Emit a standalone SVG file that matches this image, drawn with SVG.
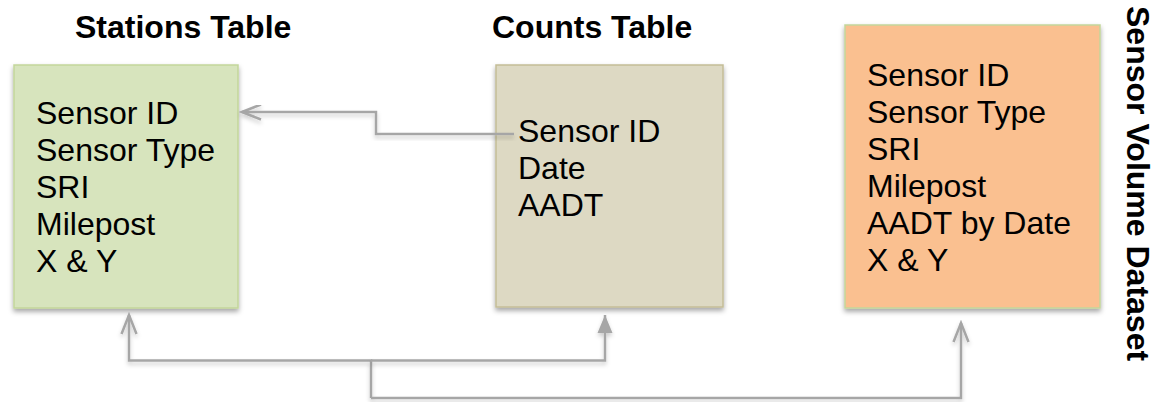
<svg xmlns="http://www.w3.org/2000/svg" width="1156" height="402" viewBox="0 0 1156 402">
  <style>
    .title { font-family: "Liberation Sans", Arial, sans-serif; font-weight: bold; font-size: 32px; fill: #000; }
    .body { font-family: "Liberation Sans", Arial, sans-serif; font-size: 32px; fill: #000; }
    .box { stroke-width: 1.5; filter: url(#shadow); }
    .link { fill: none; stroke: #a6a6a6; stroke-width: 2.5; filter: url(#lineShadow); }
  </style>
  <defs>
    <filter id="shadow" x="-10%" y="-10%" width="120%" height="125%">
      <feDropShadow dx="0" dy="3" stdDeviation="2.5" flood-color="#000" flood-opacity="0.35"/>
    </filter>
    <filter id="lineShadow" x="-10%" y="-30%" width="120%" height="160%">
      <feDropShadow dx="0" dy="3" stdDeviation="2" flood-color="#000" flood-opacity="0.2"/>
    </filter>
    <marker id="openArrow" markerUnits="userSpaceOnUse" viewBox="0 0 24 18" markerWidth="24" markerHeight="18" refX="21" refY="9" orient="auto">
      <path d="M2,1.5 L21,9 L2,16.5" fill="none" stroke="#a6a6a6" stroke-width="2.5"/>
    </marker>
    <marker id="solidArrow" markerUnits="userSpaceOnUse" viewBox="0 0 20 18" markerWidth="20" markerHeight="18" refX="18" refY="9" orient="auto">
      <path d="M0,1.5 L18,9 L0,16.5 Z" fill="#a6a6a6"/>
    </marker>
  </defs>

  <!-- Titles -->
  <text class="title" x="75" y="38">Stations Table</text>
  <text class="title" x="492" y="38">Counts Table</text>

  <!-- Stations table -->
  <g id="stations">
    <rect class="box" x="14" y="65" width="224" height="243" fill="#d7e4bd" stroke="#c3d69b"/>
    <text class="body" x="36" y="124">Sensor ID</text>
    <text class="body" x="36" y="161">Sensor Type</text>
    <text class="body" x="36" y="198">SRI</text>
    <text class="body" x="36" y="235">Milepost</text>
    <text class="body" x="36" y="272">X &amp; Y</text>
  </g>

  <!-- Counts table -->
  <g id="counts">
    <rect class="box" x="496" y="65" width="227" height="242" fill="#ddd9c3" stroke="#c4bd97"/>
    <text class="body" x="518" y="142">Sensor ID</text>
    <text class="body" x="518" y="179">Date</text>
    <text class="body" x="518" y="216">AADT</text>
  </g>

  <!-- Combined dataset -->
  <g id="sensor-volume">
    <rect class="box" x="845" y="25" width="255" height="283" fill="#fac090" stroke="#c3d69b"/>
    <text class="body" x="867" y="86">Sensor ID</text>
    <text class="body" x="867" y="123">Sensor Type</text>
    <text class="body" x="867" y="160">SRI</text>
    <text class="body" x="867" y="197">Milepost</text>
    <text class="body" x="867" y="234">AADT by Date</text>
    <text class="body" x="867" y="271">X &amp; Y</text>
    <text class="title" transform="translate(1127,6) rotate(90)">Sensor Volume Dataset</text>
  </g>

  <!-- Connectors -->
  <g id="connectors">
    <path class="link" d="M514,134 H376 V112 H242" marker-end="url(#openArrow)"/>
    <path class="link" d="M371,398 V360.5 H129 V315" marker-end="url(#openArrow)"/>
    <path class="link" d="M371,360.5 H605 V315" marker-end="url(#solidArrow)"/>
    <path class="link" d="M371,398 H961 V323" marker-end="url(#openArrow)"/>
  </g>
</svg>
